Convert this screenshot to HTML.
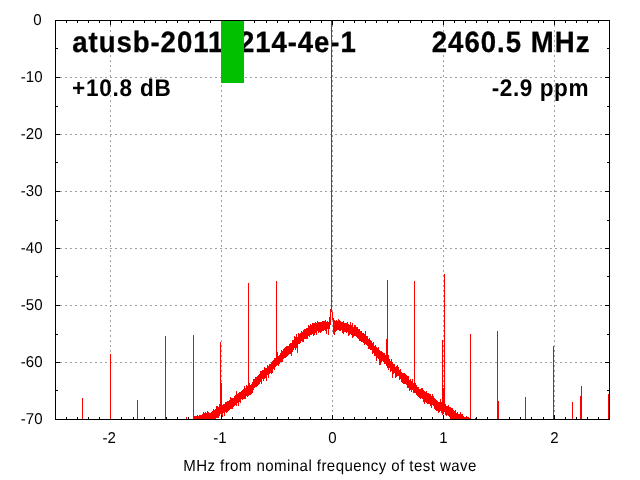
<!DOCTYPE html><html><head><meta charset="utf-8"><style>html,body{margin:0;padding:0;background:#fff;width:640px;height:480px;overflow:hidden}svg{display:block;will-change:transform}</style></head><body>
<svg width="640" height="480" viewBox="0 0 640 480">
<rect width="640" height="480" fill="#fff"/>
<g stroke="#a0a0a0" stroke-width="1" stroke-dasharray="2 3" shape-rendering="crispEdges"><line x1="110.5" y1="20" x2="110.5" y2="419"/><line x1="221.5" y1="20" x2="221.5" y2="419"/><line x1="332.5" y1="20" x2="332.5" y2="419"/><line x1="443.5" y1="20" x2="443.5" y2="419"/><line x1="554.5" y1="20" x2="554.5" y2="419"/><line x1="55" y1="77.5" x2="609" y2="77.5"/><line x1="55" y1="134.5" x2="609" y2="134.5"/><line x1="55" y1="191.5" x2="609" y2="191.5"/><line x1="55" y1="248.5" x2="609" y2="248.5"/><line x1="55" y1="305.5" x2="609" y2="305.5"/><line x1="55" y1="362.5" x2="609" y2="362.5"/></g>
<g font-family="Liberation Sans, sans-serif" fill="#000" text-rendering="geometricPrecision">
<text transform="translate(72.30,52) scale(0.94,1)" font-size="29.33" font-weight="bold" textLength="301.58" lengthAdjust="spacing" stroke="#000" stroke-width="0.3">atusb-20111214-4e-1</text>
<text transform="translate(431.70,52) scale(0.94,1)" font-size="29.33" font-weight="bold" textLength="167.93" lengthAdjust="spacing" stroke="#000" stroke-width="0.3">2460.5 MHz</text>
<text transform="translate(72.00,96) scale(0.94,1)" font-size="24" font-weight="bold" textLength="105.14" lengthAdjust="spacing">+10.8 dB</text>
<text transform="translate(491.70,96) scale(0.94,1)" font-size="24" font-weight="bold" textLength="102.94" lengthAdjust="spacing">-2.9 ppm</text>
<text transform="translate(183.20,471) scale(0.94,1)" font-size="16" font-weight="normal" textLength="311.90" lengthAdjust="spacing">MHz from nominal frequency of test wave</text>
<text transform="translate(41.6,24.75) scale(0.955,1)" font-size="15.75" text-anchor="end">0</text>
<text transform="translate(42.6,81.75) scale(0.955,1)" font-size="15.75" text-anchor="end">-10</text>
<text transform="translate(42.6,138.75) scale(0.955,1)" font-size="15.75" text-anchor="end">-20</text>
<text transform="translate(42.6,195.75) scale(0.955,1)" font-size="15.75" text-anchor="end">-30</text>
<text transform="translate(42.6,252.75) scale(0.955,1)" font-size="15.75" text-anchor="end">-40</text>
<text transform="translate(42.6,309.75) scale(0.955,1)" font-size="15.75" text-anchor="end">-50</text>
<text transform="translate(42.6,366.75) scale(0.955,1)" font-size="15.75" text-anchor="end">-60</text>
<text transform="translate(42.6,423.75) scale(0.955,1)" font-size="15.75" text-anchor="end">-70</text>
<text transform="translate(109.1,443) scale(0.955,1)" font-size="15.75" text-anchor="middle">-2</text>
<text transform="translate(219.9,443) scale(0.955,1)" font-size="15.75" text-anchor="middle">-1</text>
<text transform="translate(332.5,443) scale(0.955,1)" font-size="15.75" text-anchor="middle">0</text>
<text transform="translate(443.4,443) scale(0.955,1)" font-size="15.75" text-anchor="middle">1</text>
<text transform="translate(554.5,443) scale(0.955,1)" font-size="15.75" text-anchor="middle">2</text>
</g>
<g stroke="#000" stroke-width="1" shape-rendering="crispEdges" stroke-linecap="square"><line x1="66.5" y1="419.5" x2="66.5" y2="417.5"/><line x1="66.5" y1="20.5" x2="66.5" y2="22.5"/><line x1="77.5" y1="419.5" x2="77.5" y2="417.5"/><line x1="77.5" y1="20.5" x2="77.5" y2="22.5"/><line x1="88.5" y1="419.5" x2="88.5" y2="417.5"/><line x1="88.5" y1="20.5" x2="88.5" y2="22.5"/><line x1="99.5" y1="419.5" x2="99.5" y2="417.5"/><line x1="99.5" y1="20.5" x2="99.5" y2="22.5"/><line x1="110.5" y1="419.5" x2="110.5" y2="415.5"/><line x1="110.5" y1="20.5" x2="110.5" y2="24.5"/><line x1="121.5" y1="419.5" x2="121.5" y2="417.5"/><line x1="121.5" y1="20.5" x2="121.5" y2="22.5"/><line x1="133.5" y1="419.5" x2="133.5" y2="417.5"/><line x1="133.5" y1="20.5" x2="133.5" y2="22.5"/><line x1="144.5" y1="419.5" x2="144.5" y2="417.5"/><line x1="144.5" y1="20.5" x2="144.5" y2="22.5"/><line x1="155.5" y1="419.5" x2="155.5" y2="417.5"/><line x1="155.5" y1="20.5" x2="155.5" y2="22.5"/><line x1="166.5" y1="419.5" x2="166.5" y2="417.5"/><line x1="166.5" y1="20.5" x2="166.5" y2="22.5"/><line x1="177.5" y1="419.5" x2="177.5" y2="417.5"/><line x1="177.5" y1="20.5" x2="177.5" y2="22.5"/><line x1="188.5" y1="419.5" x2="188.5" y2="417.5"/><line x1="188.5" y1="20.5" x2="188.5" y2="22.5"/><line x1="199.5" y1="419.5" x2="199.5" y2="417.5"/><line x1="199.5" y1="20.5" x2="199.5" y2="22.5"/><line x1="210.5" y1="419.5" x2="210.5" y2="417.5"/><line x1="210.5" y1="20.5" x2="210.5" y2="22.5"/><line x1="221.5" y1="419.5" x2="221.5" y2="415.5"/><line x1="221.5" y1="20.5" x2="221.5" y2="24.5"/><line x1="232.5" y1="419.5" x2="232.5" y2="417.5"/><line x1="232.5" y1="20.5" x2="232.5" y2="22.5"/><line x1="243.5" y1="419.5" x2="243.5" y2="417.5"/><line x1="243.5" y1="20.5" x2="243.5" y2="22.5"/><line x1="254.5" y1="419.5" x2="254.5" y2="417.5"/><line x1="254.5" y1="20.5" x2="254.5" y2="22.5"/><line x1="266.5" y1="419.5" x2="266.5" y2="417.5"/><line x1="266.5" y1="20.5" x2="266.5" y2="22.5"/><line x1="277.5" y1="419.5" x2="277.5" y2="417.5"/><line x1="277.5" y1="20.5" x2="277.5" y2="22.5"/><line x1="288.5" y1="419.5" x2="288.5" y2="417.5"/><line x1="288.5" y1="20.5" x2="288.5" y2="22.5"/><line x1="299.5" y1="419.5" x2="299.5" y2="417.5"/><line x1="299.5" y1="20.5" x2="299.5" y2="22.5"/><line x1="310.5" y1="419.5" x2="310.5" y2="417.5"/><line x1="310.5" y1="20.5" x2="310.5" y2="22.5"/><line x1="321.5" y1="419.5" x2="321.5" y2="417.5"/><line x1="321.5" y1="20.5" x2="321.5" y2="22.5"/><line x1="332.5" y1="419.5" x2="332.5" y2="415.5"/><line x1="332.5" y1="20.5" x2="332.5" y2="24.5"/><line x1="343.5" y1="419.5" x2="343.5" y2="417.5"/><line x1="343.5" y1="20.5" x2="343.5" y2="22.5"/><line x1="354.5" y1="419.5" x2="354.5" y2="417.5"/><line x1="354.5" y1="20.5" x2="354.5" y2="22.5"/><line x1="365.5" y1="419.5" x2="365.5" y2="417.5"/><line x1="365.5" y1="20.5" x2="365.5" y2="22.5"/><line x1="376.5" y1="419.5" x2="376.5" y2="417.5"/><line x1="376.5" y1="20.5" x2="376.5" y2="22.5"/><line x1="387.5" y1="419.5" x2="387.5" y2="417.5"/><line x1="387.5" y1="20.5" x2="387.5" y2="22.5"/><line x1="398.5" y1="419.5" x2="398.5" y2="417.5"/><line x1="398.5" y1="20.5" x2="398.5" y2="22.5"/><line x1="410.5" y1="419.5" x2="410.5" y2="417.5"/><line x1="410.5" y1="20.5" x2="410.5" y2="22.5"/><line x1="421.5" y1="419.5" x2="421.5" y2="417.5"/><line x1="421.5" y1="20.5" x2="421.5" y2="22.5"/><line x1="432.5" y1="419.5" x2="432.5" y2="417.5"/><line x1="432.5" y1="20.5" x2="432.5" y2="22.5"/><line x1="443.5" y1="419.5" x2="443.5" y2="415.5"/><line x1="443.5" y1="20.5" x2="443.5" y2="24.5"/><line x1="454.5" y1="419.5" x2="454.5" y2="417.5"/><line x1="454.5" y1="20.5" x2="454.5" y2="22.5"/><line x1="465.5" y1="419.5" x2="465.5" y2="417.5"/><line x1="465.5" y1="20.5" x2="465.5" y2="22.5"/><line x1="476.5" y1="419.5" x2="476.5" y2="417.5"/><line x1="476.5" y1="20.5" x2="476.5" y2="22.5"/><line x1="487.5" y1="419.5" x2="487.5" y2="417.5"/><line x1="487.5" y1="20.5" x2="487.5" y2="22.5"/><line x1="498.5" y1="419.5" x2="498.5" y2="417.5"/><line x1="498.5" y1="20.5" x2="498.5" y2="22.5"/><line x1="509.5" y1="419.5" x2="509.5" y2="417.5"/><line x1="509.5" y1="20.5" x2="509.5" y2="22.5"/><line x1="520.5" y1="419.5" x2="520.5" y2="417.5"/><line x1="520.5" y1="20.5" x2="520.5" y2="22.5"/><line x1="531.5" y1="419.5" x2="531.5" y2="417.5"/><line x1="531.5" y1="20.5" x2="531.5" y2="22.5"/><line x1="543.5" y1="419.5" x2="543.5" y2="417.5"/><line x1="543.5" y1="20.5" x2="543.5" y2="22.5"/><line x1="554.5" y1="419.5" x2="554.5" y2="415.5"/><line x1="554.5" y1="20.5" x2="554.5" y2="24.5"/><line x1="565.5" y1="419.5" x2="565.5" y2="417.5"/><line x1="565.5" y1="20.5" x2="565.5" y2="22.5"/><line x1="576.5" y1="419.5" x2="576.5" y2="417.5"/><line x1="576.5" y1="20.5" x2="576.5" y2="22.5"/><line x1="587.5" y1="419.5" x2="587.5" y2="417.5"/><line x1="587.5" y1="20.5" x2="587.5" y2="22.5"/><line x1="598.5" y1="419.5" x2="598.5" y2="417.5"/><line x1="598.5" y1="20.5" x2="598.5" y2="22.5"/><line x1="55.5" y1="20.5" x2="59.5" y2="20.5"/><line x1="609.5" y1="20.5" x2="605.5" y2="20.5"/><line x1="55.5" y1="48.5" x2="57.5" y2="48.5"/><line x1="609.5" y1="48.5" x2="607.5" y2="48.5"/><line x1="55.5" y1="77.5" x2="59.5" y2="77.5"/><line x1="609.5" y1="77.5" x2="605.5" y2="77.5"/><line x1="55.5" y1="106.5" x2="57.5" y2="106.5"/><line x1="609.5" y1="106.5" x2="607.5" y2="106.5"/><line x1="55.5" y1="134.5" x2="59.5" y2="134.5"/><line x1="609.5" y1="134.5" x2="605.5" y2="134.5"/><line x1="55.5" y1="162.5" x2="57.5" y2="162.5"/><line x1="609.5" y1="162.5" x2="607.5" y2="162.5"/><line x1="55.5" y1="191.5" x2="59.5" y2="191.5"/><line x1="609.5" y1="191.5" x2="605.5" y2="191.5"/><line x1="55.5" y1="220.5" x2="57.5" y2="220.5"/><line x1="609.5" y1="220.5" x2="607.5" y2="220.5"/><line x1="55.5" y1="248.5" x2="59.5" y2="248.5"/><line x1="609.5" y1="248.5" x2="605.5" y2="248.5"/><line x1="55.5" y1="276.5" x2="57.5" y2="276.5"/><line x1="609.5" y1="276.5" x2="607.5" y2="276.5"/><line x1="55.5" y1="305.5" x2="59.5" y2="305.5"/><line x1="609.5" y1="305.5" x2="605.5" y2="305.5"/><line x1="55.5" y1="334.5" x2="57.5" y2="334.5"/><line x1="609.5" y1="334.5" x2="607.5" y2="334.5"/><line x1="55.5" y1="362.5" x2="59.5" y2="362.5"/><line x1="609.5" y1="362.5" x2="605.5" y2="362.5"/><line x1="55.5" y1="390.5" x2="57.5" y2="390.5"/><line x1="609.5" y1="390.5" x2="607.5" y2="390.5"/><line x1="55.5" y1="419.5" x2="59.5" y2="419.5"/><line x1="609.5" y1="419.5" x2="605.5" y2="419.5"/></g>
<rect x="221" y="21" width="23" height="62" fill="#00c000"/>
<g fill="#ff0000" shape-rendering="crispEdges"><rect x="82" y="398" width="1" height="22"/><rect x="110" y="354" width="1" height="66"/><rect x="137" y="400" width="1" height="20"/><rect x="165" y="336" width="1" height="84"/><rect x="186" y="417" width="1" height="3"/><rect x="193" y="335" width="1" height="85"/><rect x="194" y="416" width="1" height="4"/><rect x="195" y="416" width="1" height="4"/><rect x="196" y="416" width="1" height="4"/><rect x="197" y="415" width="1" height="5"/><rect x="198" y="416" width="1" height="4"/><rect x="199" y="415" width="1" height="5"/><rect x="200" y="415" width="1" height="5"/><rect x="201" y="415" width="1" height="5"/><rect x="202" y="414" width="1" height="6"/><rect x="203" y="412" width="1" height="8"/><rect x="204" y="413" width="1" height="7"/><rect x="205" y="412" width="1" height="8"/><rect x="206" y="413" width="1" height="7"/><rect x="207" y="411" width="1" height="9"/><rect x="208" y="412" width="1" height="8"/><rect x="209" y="413" width="1" height="7"/><rect x="210" y="413" width="1" height="7"/><rect x="211" y="412" width="1" height="8"/><rect x="212" y="411" width="1" height="9"/><rect x="213" y="409" width="1" height="11"/><rect x="214" y="410" width="1" height="10"/><rect x="215" y="409" width="1" height="10"/><rect x="216" y="406" width="1" height="12"/><rect x="217" y="406" width="1" height="12"/><rect x="218" y="407" width="1" height="11"/><rect x="219" y="404" width="1" height="12"/><rect x="220" y="342" width="1" height="72"/><rect x="221" y="383" width="1" height="32"/><rect x="222" y="405" width="1" height="12"/><rect x="223" y="404" width="1" height="9"/><rect x="224" y="404" width="1" height="12"/><rect x="225" y="402" width="1" height="10"/><rect x="226" y="402" width="1" height="11"/><rect x="227" y="401" width="1" height="11"/><rect x="228" y="401" width="1" height="10"/><rect x="229" y="400" width="1" height="10"/><rect x="230" y="397" width="1" height="12"/><rect x="231" y="398" width="1" height="11"/><rect x="232" y="398" width="1" height="11"/><rect x="233" y="398" width="1" height="9"/><rect x="234" y="396" width="1" height="10"/><rect x="235" y="395" width="1" height="10"/><rect x="236" y="391" width="1" height="15"/><rect x="237" y="394" width="1" height="9"/><rect x="238" y="393" width="1" height="13"/><rect x="239" y="392" width="1" height="10"/><rect x="240" y="392" width="1" height="11"/><rect x="241" y="391" width="1" height="8"/><rect x="242" y="390" width="1" height="10"/><rect x="243" y="389" width="1" height="10"/><rect x="244" y="386" width="1" height="13"/><rect x="245" y="388" width="1" height="11"/><rect x="246" y="385" width="1" height="11"/><rect x="247" y="386" width="1" height="11"/><rect x="248" y="283" width="1" height="113"/><rect x="249" y="383" width="1" height="12"/><rect x="250" y="385" width="1" height="10"/><rect x="251" y="384" width="1" height="10"/><rect x="252" y="382" width="1" height="11"/><rect x="253" y="379" width="1" height="11"/><rect x="254" y="379" width="1" height="9"/><rect x="255" y="377" width="1" height="10"/><rect x="256" y="377" width="1" height="10"/><rect x="257" y="376" width="1" height="10"/><rect x="258" y="375" width="1" height="10"/><rect x="259" y="374" width="1" height="10"/><rect x="260" y="371" width="1" height="11"/><rect x="261" y="371" width="1" height="13"/><rect x="262" y="370" width="1" height="9"/><rect x="263" y="370" width="1" height="11"/><rect x="264" y="367" width="1" height="12"/><rect x="265" y="368" width="1" height="10"/><rect x="266" y="368" width="1" height="13"/><rect x="267" y="365" width="1" height="10"/><rect x="268" y="366" width="1" height="12"/><rect x="269" y="364" width="1" height="10"/><rect x="270" y="364" width="1" height="9"/><rect x="271" y="362" width="1" height="12"/><rect x="272" y="361" width="1" height="12"/><rect x="273" y="360" width="1" height="9"/><rect x="274" y="358" width="1" height="12"/><rect x="275" y="358" width="1" height="9"/><rect x="276" y="281" width="1" height="85"/><rect x="277" y="352" width="1" height="13"/><rect x="278" y="356" width="1" height="10"/><rect x="279" y="355" width="1" height="9"/><rect x="280" y="353" width="1" height="9"/><rect x="281" y="350" width="1" height="12"/><rect x="282" y="351" width="1" height="11"/><rect x="283" y="349" width="1" height="10"/><rect x="284" y="348" width="1" height="10"/><rect x="285" y="347" width="1" height="11"/><rect x="286" y="346" width="1" height="11"/><rect x="287" y="346" width="1" height="10"/><rect x="288" y="346" width="1" height="9"/><rect x="289" y="344" width="1" height="10"/><rect x="290" y="343" width="1" height="11"/><rect x="291" y="343" width="1" height="13"/><rect x="292" y="340" width="1" height="12"/><rect x="293" y="340" width="1" height="10"/><rect x="294" y="336" width="1" height="12"/><rect x="295" y="337" width="1" height="13"/><rect x="296" y="334" width="1" height="14"/><rect x="297" y="337" width="1" height="16"/><rect x="298" y="333" width="1" height="11"/><rect x="299" y="334" width="1" height="10"/><rect x="300" y="333" width="1" height="10"/><rect x="301" y="331" width="1" height="10"/><rect x="302" y="332" width="1" height="10"/><rect x="303" y="330" width="1" height="12"/><rect x="304" y="329" width="1" height="10"/><rect x="305" y="329" width="1" height="10"/><rect x="306" y="328" width="1" height="11"/><rect x="307" y="328" width="1" height="11"/><rect x="308" y="325" width="1" height="11"/><rect x="309" y="326" width="1" height="11"/><rect x="310" y="324" width="1" height="11"/><rect x="311" y="325" width="1" height="10"/><rect x="312" y="323" width="1" height="11"/><rect x="313" y="323" width="1" height="13"/><rect x="314" y="323" width="1" height="12"/><rect x="315" y="322" width="1" height="11"/><rect x="316" y="323" width="1" height="12"/><rect x="317" y="321" width="1" height="10"/><rect x="318" y="322" width="1" height="11"/><rect x="319" y="322" width="1" height="10"/><rect x="320" y="322" width="1" height="11"/><rect x="321" y="322" width="1" height="10"/><rect x="322" y="321" width="1" height="10"/><rect x="323" y="321" width="1" height="10"/><rect x="324" y="321" width="1" height="9"/><rect x="325" y="320" width="1" height="11"/><rect x="326" y="322" width="1" height="12"/><rect x="327" y="321" width="1" height="8"/><rect x="328" y="322" width="1" height="13"/><rect x="329" y="317" width="1" height="12"/><rect x="330" y="309" width="1" height="16"/><rect x="331" y="21" width="1" height="291"/><rect x="332" y="312" width="1" height="8"/><rect x="333" y="318" width="1" height="16"/><rect x="334" y="320" width="1" height="15"/><rect x="335" y="321" width="1" height="11"/><rect x="336" y="320" width="1" height="11"/><rect x="337" y="321" width="1" height="9"/><rect x="338" y="319" width="1" height="11"/><rect x="339" y="320" width="1" height="11"/><rect x="340" y="321" width="1" height="10"/><rect x="341" y="322" width="1" height="8"/><rect x="342" y="322" width="1" height="11"/><rect x="343" y="321" width="1" height="13"/><rect x="344" y="323" width="1" height="9"/><rect x="345" y="323" width="1" height="9"/><rect x="346" y="323" width="1" height="10"/><rect x="347" y="322" width="1" height="10"/><rect x="348" y="324" width="1" height="12"/><rect x="349" y="325" width="1" height="10"/><rect x="350" y="322" width="1" height="12"/><rect x="351" y="325" width="1" height="10"/><rect x="352" y="323" width="1" height="15"/><rect x="353" y="327" width="1" height="10"/><rect x="354" y="325" width="1" height="11"/><rect x="355" y="325" width="1" height="11"/><rect x="356" y="327" width="1" height="10"/><rect x="357" y="327" width="1" height="11"/><rect x="358" y="329" width="1" height="10"/><rect x="359" y="329" width="1" height="12"/><rect x="360" y="331" width="1" height="10"/><rect x="361" y="331" width="1" height="11"/><rect x="362" y="333" width="1" height="9"/><rect x="363" y="333" width="1" height="10"/><rect x="364" y="334" width="1" height="11"/><rect x="365" y="331" width="1" height="13"/><rect x="366" y="336" width="1" height="9"/><rect x="367" y="336" width="1" height="10"/><rect x="368" y="339" width="1" height="10"/><rect x="369" y="338" width="1" height="11"/><rect x="370" y="340" width="1" height="10"/><rect x="371" y="341" width="1" height="9"/><rect x="372" y="343" width="1" height="11"/><rect x="373" y="342" width="1" height="11"/><rect x="374" y="346" width="1" height="10"/><rect x="375" y="345" width="1" height="11"/><rect x="376" y="347" width="1" height="14"/><rect x="377" y="348" width="1" height="10"/><rect x="378" y="347" width="1" height="12"/><rect x="379" y="350" width="1" height="15"/><rect x="380" y="351" width="1" height="14"/><rect x="381" y="351" width="1" height="11"/><rect x="382" y="352" width="1" height="9"/><rect x="383" y="353" width="1" height="9"/><rect x="384" y="353" width="1" height="11"/><rect x="385" y="355" width="1" height="9"/><rect x="386" y="339" width="1" height="27"/><rect x="387" y="280" width="1" height="88"/><rect x="388" y="355" width="1" height="15"/><rect x="389" y="359" width="1" height="9"/><rect x="390" y="361" width="1" height="11"/><rect x="391" y="359" width="1" height="12"/><rect x="392" y="362" width="1" height="16"/><rect x="393" y="364" width="1" height="10"/><rect x="394" y="364" width="1" height="9"/><rect x="395" y="367" width="1" height="11"/><rect x="396" y="366" width="1" height="11"/><rect x="397" y="365" width="1" height="11"/><rect x="398" y="367" width="1" height="9"/><rect x="399" y="370" width="1" height="10"/><rect x="400" y="369" width="1" height="10"/><rect x="401" y="372" width="1" height="10"/><rect x="402" y="373" width="1" height="10"/><rect x="403" y="373" width="1" height="11"/><rect x="404" y="373" width="1" height="11"/><rect x="405" y="374" width="1" height="10"/><rect x="406" y="375" width="1" height="10"/><rect x="407" y="376" width="1" height="12"/><rect x="408" y="376" width="1" height="12"/><rect x="409" y="380" width="1" height="11"/><rect x="410" y="379" width="1" height="11"/><rect x="411" y="381" width="1" height="11"/><rect x="412" y="379" width="1" height="11"/><rect x="413" y="383" width="1" height="10"/><rect x="414" y="281" width="1" height="112"/><rect x="415" y="383" width="1" height="10"/><rect x="416" y="385" width="1" height="10"/><rect x="417" y="387" width="1" height="9"/><rect x="418" y="387" width="1" height="10"/><rect x="419" y="389" width="1" height="9"/><rect x="420" y="389" width="1" height="10"/><rect x="421" y="388" width="1" height="10"/><rect x="422" y="388" width="1" height="11"/><rect x="423" y="390" width="1" height="12"/><rect x="424" y="391" width="1" height="13"/><rect x="425" y="392" width="1" height="10"/><rect x="426" y="391" width="1" height="12"/><rect x="427" y="393" width="1" height="11"/><rect x="428" y="393" width="1" height="11"/><rect x="429" y="394" width="1" height="10"/><rect x="430" y="394" width="1" height="12"/><rect x="431" y="396" width="1" height="12"/><rect x="432" y="394" width="1" height="11"/><rect x="433" y="396" width="1" height="10"/><rect x="434" y="398" width="1" height="11"/><rect x="435" y="399" width="1" height="11"/><rect x="436" y="400" width="1" height="11"/><rect x="437" y="401" width="1" height="10"/><rect x="438" y="402" width="1" height="11"/><rect x="439" y="402" width="1" height="10"/><rect x="440" y="399" width="1" height="12"/><rect x="441" y="402" width="1" height="11"/><rect x="442" y="340" width="1" height="75"/><rect x="443" y="388" width="1" height="26"/><rect x="444" y="274" width="1" height="138"/><rect x="445" y="404" width="1" height="11"/><rect x="446" y="406" width="1" height="10"/><rect x="447" y="406" width="1" height="9"/><rect x="448" y="405" width="1" height="11"/><rect x="449" y="407" width="1" height="10"/><rect x="450" y="407" width="1" height="13"/><rect x="451" y="408" width="1" height="11"/><rect x="452" y="408" width="1" height="11"/><rect x="453" y="410" width="1" height="10"/><rect x="454" y="411" width="1" height="9"/><rect x="455" y="410" width="1" height="9"/><rect x="456" y="413" width="1" height="7"/><rect x="457" y="412" width="1" height="8"/><rect x="458" y="414" width="1" height="6"/><rect x="459" y="414" width="1" height="6"/><rect x="460" y="412" width="1" height="8"/><rect x="461" y="414" width="1" height="6"/><rect x="462" y="414" width="1" height="6"/><rect x="463" y="416" width="1" height="4"/><rect x="464" y="417" width="1" height="3"/><rect x="465" y="417" width="1" height="3"/><rect x="466" y="416" width="1" height="4"/><rect x="467" y="417" width="1" height="3"/><rect x="468" y="417" width="1" height="3"/><rect x="469" y="418" width="1" height="2"/><rect x="470" y="334" width="1" height="86"/><rect x="475" y="418" width="1" height="2"/><rect x="497" y="331" width="1" height="89"/><rect x="498" y="401" width="1" height="19"/><rect x="525" y="397" width="1" height="23"/><rect x="553" y="346" width="1" height="74"/><rect x="572" y="402" width="1" height="18"/><rect x="580" y="396" width="1" height="24"/><rect x="581" y="386" width="1" height="34"/><rect x="608" y="394" width="1" height="26"/></g>
<rect x="55.5" y="20.5" width="554" height="399" fill="none" stroke="#000" stroke-width="1" shape-rendering="crispEdges"/>
</svg></body></html>
